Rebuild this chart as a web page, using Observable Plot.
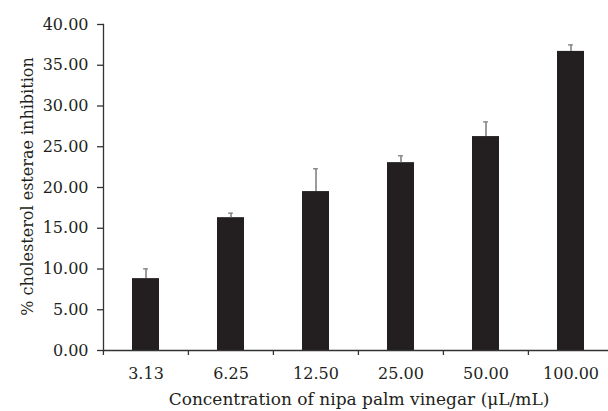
<!DOCTYPE html>
<html><head><meta charset="utf-8">
<script src="https://cdn.jsdelivr.net/npm/d3@7"></script>
<script src="https://cdn.jsdelivr.net/npm/@observablehq/plot@0.6"></script>
<style>body{margin:0;background:#fff}</style>
</head><body><div id="chart"></div>
<script>
const concentrations = ["3.13", "6.25", "12.50", "25.00", "50.00", "100.00"];
const inhibition = [8.82, 16.30, 19.50, 23.05, 26.25, 36.70];
const errors = [1.20, 0.55, 2.80, 0.85, 1.80, 0.80];
const yTicks = [0, 5, 10, 15, 20, 25, 30, 35, 40];
const xTitle = "Concentration of nipa palm vinegar (\u03bcL/mL)";
const yTitle = "% cholesterol esterae inhibition";

const data = concentrations.map((c, i) => ({c, v: inhibition[i], e: errors[i]}));
const xRange = [103, 614];
const step = (xRange[1] - xRange[0]) / concentrations.length;
const bw = step * 0.32;
const ink = "#231f20";
const axisInk = "#333";

const chart = Plot.plot({
  width: 608, height: 411,
  marginLeft: 103, marginTop: 24, marginBottom: 61, marginRight: 0,
  style: {fontFamily: "'DejaVu Serif', serif", fontSize: "15px", color: ink, background: "#fff"},
  x: {type: "band", domain: concentrations, range: xRange, paddingInner: 0.68, paddingOuter: 0.34, axis: null},
  y: {domain: [0, 40], axis: null},
  marks: [
    Plot.barY(data, {x: "c", y: "v", fill: ink}),
    Plot.ruleX(data, {x: "c", y1: "v", y2: d => d.v + d.e, stroke: "#8a8a8a", strokeWidth: 1.7}),
    Plot.tickY(data, {x: "c", y: d => d.v + d.e, stroke: "#8a8a8a", strokeWidth: 1.5, insetLeft: (bw - 5) / 2, insetRight: (bw - 5) / 2}),
    Plot.axisY({ticks: yTicks, tickFormat: d => d.toFixed(2), tickSize: 6, tickPadding: 9, label: null, stroke: axisInk, strokeWidth: 1.3, fontSize: 16}),
    Plot.axisX({tickSize: 0, tickPadding: 17, label: null, fontSize: 16}),
    Plot.ruleY([0], {stroke: axisInk, strokeWidth: 1.3}),
    Plot.frame({anchor: "left", stroke: axisInk, strokeWidth: 1.3}),
    Plot.ruleX(concentrations, {x: d => d, y1: () => 0, insetBottom: -5, dx: -step / 2, stroke: axisInk, strokeWidth: 1.3}),
    Plot.text([xTitle], {frameAnchor: "bottom", textAnchor: "middle", dy: 49, dx: 3, fontSize: 17, lineAnchor: "middle", fill: ink}),
    Plot.text([yTitle], {frameAnchor: "left", textAnchor: "middle", dx: -76, dy: -1, rotate: -90, fontSize: 16, lineAnchor: "middle", fill: ink})
  ]
});
document.getElementById("chart").append(chart);
</script>
</body></html>
